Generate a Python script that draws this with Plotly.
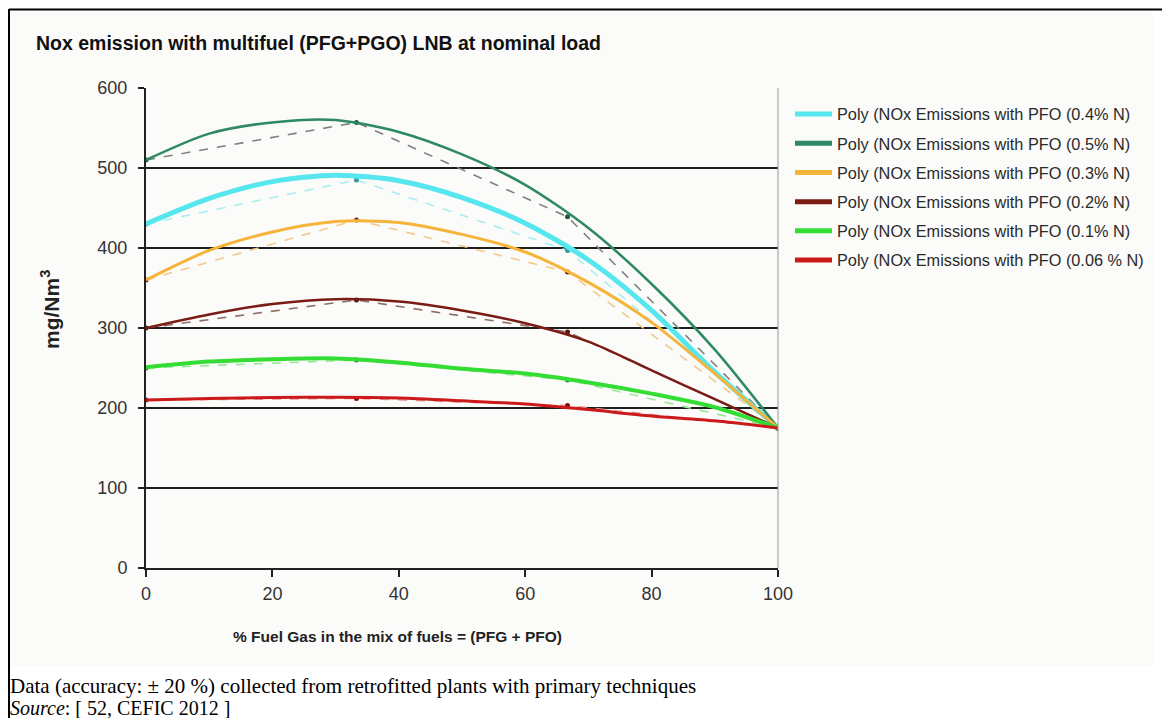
import plotly.graph_objects as go

# ---------------- data ----------------
data_x = [0, 33.3, 66.7, 100]
trend_x = [0, 10, 20, 30, 40, 50, 60, 70, 80, 90, 100]

series_names = [
    "Poly (NOx Emissions with PFO (0.4% N)",
    "Poly (NOx Emissions with PFO (0.5% N)",
    "Poly (NOx Emissions with PFO (0.3% N)",
    "Poly (NOx Emissions with PFO (0.2% N)",
    "Poly (NOx Emissions with PFO (0.1% N)",
    "Poly (NOx Emissions with PFO (0.06 % N)",
]

# measured points (dashed lines)
data_04 = [430, 485, 397, 175]
data_05 = [510, 557, 439, 175]
data_03 = [360, 435, 370, 175]
data_02 = [300, 335, 295, 175]
data_01 = [250, 260, 235, 175]
data_006 = [210, 212, 203, 175]

# polynomial trend lines
trend_04 = [430, 462, 483, 491, 484, 463, 431, 385, 322, 245, 175]
trend_05 = [510, 543, 557, 560, 545, 517, 479, 425, 355, 273, 175]
trend_03 = [360, 397, 420, 433, 432, 417, 395, 357, 307, 243, 175]
trend_02 = [300, 317, 330, 336, 333, 322, 306, 283, 247, 211, 175]
trend_01 = [251, 258, 261, 262, 257, 249, 243, 232, 218, 201, 175]
trend_006 = [210, 212, 213, 213.5, 212.5, 209, 205, 198, 190, 184, 175]

x_ticks = [0, 20, 40, 60, 80, 100]
y_ticks = [0, 100, 200, 300, 400, 500, 600]

# ---------------- styles ----------------
trend_sets = [trend_04, trend_05, trend_03, trend_02, trend_01, trend_006]
data_sets = [data_04, data_05, data_03, data_02, data_01, data_006]
trend_colors = ["#56e6ee", "#2e8865", "#f6b43a", "#7a1c14", "#33dd33", "#cc1a1a"]
trend_widths = [5, 2.5, 3, 2.5, 4, 3]
data_colors = ["#a8eef0", "#808080", "#f2c98e", "#8d6e66", "#9ee69e", "#e49a9a"]
marker_colors = ["#3a9aa0", "#1f5a44", "#7a2210", "#5a1410", "#2a8a2a", "#7a1010"]

fig = go.Figure()

# dashed measured-data lines (no legend)
for d, c, mc in zip(data_sets, data_colors, marker_colors):
    fig.add_trace(go.Scatter(
        x=data_x, y=d, mode="lines+markers",
        line=dict(color=c, width=1.6, dash="dash"),
        marker=dict(color=mc, size=5),
        showlegend=False, hoverinfo="skip",
    ))

# trend lines
for i, (t, c, w, n) in enumerate(zip(trend_sets, trend_colors, trend_widths, series_names)):
    fig.add_trace(go.Scatter(
        x=trend_x, y=t, mode="lines", name=n,
        line=dict(color=c, width=w, shape="spline", smoothing=0.8),
        showlegend=False,
    ))

# legend entries (uniform thick samples)
for i, (c, n) in enumerate(zip(trend_colors, series_names)):
    fig.add_trace(go.Scatter(
        x=[None], y=[None], mode="lines", name=n,
        line=dict(color=c, width=5),
        legendgroup=f"g{i}", showlegend=True,
    ))

# ---------------- layout geometry ----------------
# page has an 8 px body margin: screen = figure + 8
OFF = 8
FW, FH = 1170 - OFF, 718 - OFF
SX0, SX1, SY0, SY1 = 146, 778, 88, 568  # plot area in screen px
L, R = SX0 - OFF, FW - (SX1 - OFF)
T, B = SY0 - OFF, FH - (SY1 - OFF)
PW, PH = SX1 - SX0, SY1 - SY0


def px(xs):
    return (xs - SX0) / PW


def py(ys):
    return (SY1 - ys) / PH


shapes = [
    dict(type="rect", xref="paper", yref="paper", x0=px(9), x1=px(1153), y0=py(666), y1=py(11),
         fillcolor="#fbfbf9", line=dict(width=0), layer="below"),
    dict(type="line", xref="paper", yref="paper", x0=px(9), x1=px(1164), y0=py(9.5), y1=py(9.5),
         line=dict(color="black", width=2)),
    dict(type="line", xref="paper", yref="paper", x0=px(9), x1=px(9), y0=py(9), y1=py(730),
         line=dict(color="black", width=2)),
    dict(type="line", xref="paper", yref="paper", x0=px(1163), x1=px(1163), y0=py(9), y1=py(555),
         line=dict(color="black", width=2)),
    dict(type="line", xref="paper", yref="paper", x0=1, x1=1, y0=0, y1=1,
         line=dict(color="#9a9a9a", width=1)),
]

annotations = [
    dict(text="<b>Nox emission with multifuel (PFG+PGO) LNB at nominal load</b>",
         xref="paper", yref="paper", x=px(34), y=py(43), xanchor="left", yanchor="middle",
         showarrow=False, font=dict(family="Liberation Sans, Arial", size=19.5, color="#111")),
    dict(text="<b>% Fuel Gas in the mix of fuels = (PFG + PFO)</b>",
         xref="paper", yref="paper", x=px(397), y=py(636), xanchor="center", yanchor="middle",
         showarrow=False, font=dict(family="Liberation Sans, Arial", size=15.5, color="#222")),
    dict(text="<b>mg/Nm<sup>3</sup></b>", textangle=-90,
         xref="paper", yref="paper", x=px(50), y=py(310), xanchor="center", yanchor="middle",
         showarrow=False, font=dict(family="Liberation Sans, Arial", size=21, color="#222")),
    dict(text="Data (accuracy: \u00b1 20 %) collected from retrofitted plants with primary techniques",
         xref="paper", yref="paper", x=px(8), y=py(686), xanchor="left", yanchor="middle",
         showarrow=False, font=dict(family="Liberation Serif, Times New Roman", size=21, color="#000")),
    dict(text="<i>Source</i>: [ 52, CEFIC 2012 ]",
         xref="paper", yref="paper", x=px(8), y=py(708), xanchor="left", yanchor="middle",
         showarrow=False, font=dict(family="Liberation Serif, Times New Roman", size=20, color="#000")),
]

fig.update_layout(
    width=FW, height=FH,
    margin=dict(l=L, r=R, t=T, b=B),
    paper_bgcolor="white",
    plot_bgcolor="#d9d9d7",
    font=dict(family="Liberation Sans, Arial", size=13, color="#333"),
    shapes=shapes,
    annotations=annotations,
    legend=dict(
        x=px(790), y=py(97), xanchor="left", yanchor="top",
        bgcolor="rgba(0,0,0,0)", tracegroupgap=5,
        font=dict(family="Liberation Sans, Arial", size=16.3, color="#2a2a2a"),
        itemwidth=37,
    ),
    showlegend=True,
)

fig.update_xaxes(
    range=[0, 100], tickvals=x_ticks, ticktext=[str(v) for v in x_ticks],
    showgrid=False, zeroline=False, showline=True, linecolor="#222", linewidth=2,
    ticks="outside", ticklen=7, tickcolor="#222", tickwidth=1.5, ticklabelstandoff=1,
    tickfont=dict(size=18, color="#333"),
)
fig.update_yaxes(
    range=[0, 600], tickvals=y_ticks, ticktext=[str(v) for v in y_ticks],
    showgrid=True, gridcolor="#1e1e1e", gridwidth=2, zeroline=False,
    showline=True, linecolor="#222", linewidth=2,
    ticks="outside", ticklen=6, tickcolor="#222", tickwidth=1.5, ticklabelstandoff=7,
    tickfont=dict(size=18, color="#333"),
)

fig.write_html("out.html")
